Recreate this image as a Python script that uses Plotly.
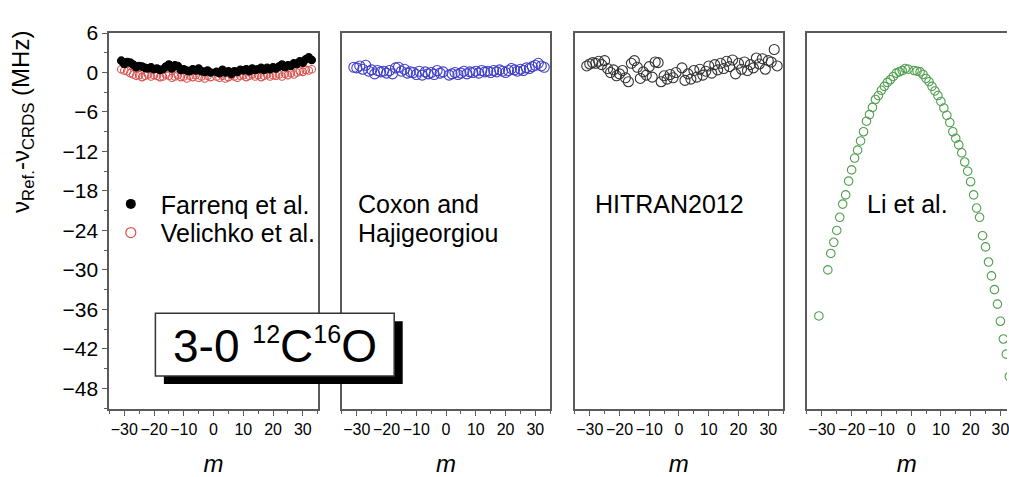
import plotly.graph_objects as go

# ---------------- data ----------------
m_main = [-31, -30, -29, -28, -27, -26, -25, -24, -23, -22, -21, -20, -19, -18, -17, -16,
          -15, -14, -13, -12, -11, -10, -9, -8, -7, -6, -5, -4, -3, -2, -1,
          1, 2, 3, 4, 5, 6, 7, 8, 9, 10, 11, 12, 13, 14, 15, 16, 17, 18, 19, 20,
          21, 22, 23, 24, 25, 26, 27, 28, 29, 30, 31, 32, 33]

farrenq = [1.8, 1.3, 1.6, 1.5, 1.2, 0.8, 1.0, 0.9, 0.7, 0.6, 0.8, 0.5, 0.6, 0.4, 0.5, 0.9,
           1.2, 0.6, 1.1, 1.0, 0.4, 0.5, 0.3, 0.2, 0.5, 0.3, 0.6, 0.2, 0.1, 0.3, 0.0,
           0.1, -0.1, 0.4, 0.0, 0.2, -0.2, 0.2, 0.1, 0.4, 0.3, 0.5, 0.2, 0.6, 0.4, 0.5, 0.7,
           0.4, 0.7, 0.5, 0.8, 0.6, 0.9, 1.2, 0.8, 1.1, 1.0, 1.4, 1.3, 1.7, 1.5, 2.0, 2.3, 1.9]

velichko = [0.5, 0.3, 0.2, -0.1, -0.3, -0.5, -0.4, -0.7, -0.5, -0.3, -0.6, -0.4, -0.5, -0.7,
            -0.6, -0.3, -0.5, -0.8, -0.6, -0.4, -0.7, -0.6, -0.9, -0.5, -0.7, -0.4, -0.8,
            -0.6, -0.9, -0.5, -0.7,
            -0.6, -0.8, -0.5, -0.9, -0.7, -0.4, -0.6, -0.8, -0.5, -0.4, -0.7, -0.5, -0.3,
            -0.6, -0.4, -0.7, -0.5, -0.3, -0.6, -0.4, -0.5, -0.3, -0.6, -0.2, -0.4, -0.1,
            -0.3, 0.0, 0.2, 0.1, 0.4, 0.3, 0.5]

coxon = [0.8, 0.7, 1.0, 0.5, 1.1, 0.2, 0.4, -0.2, 0.3, 0.1, 0.2, -0.1, 0.3, -0.2, 0.7, 0.8,
         0.2, 0.5, -0.1, 0.1, 0.0, -0.3, 0.2, -0.4, 0.1, -0.2, 0.0, -0.3, 0.3, -0.1, 0.1,
         -0.4, -0.2, 0.0, -0.3, -0.1, 0.2, -0.2, 0.1, 0.0, 0.2, -0.1, 0.3, 0.1, 0.2, 0.0,
         0.3, 0.1, 0.4, 0.2, 0.0, 0.3, 0.6, 0.4, 0.2, 0.5, 0.3, 0.7, 0.6, 0.9, 1.1, 1.4,
         1.0, 0.8]

hitran = [1.0, 1.3, 1.5, 1.4, 1.7, 1.2, 1.8, 0.6, 0.0, 0.4, -0.5, -0.2, 0.3, -0.8, -1.4,
          1.4, 1.8, 0.8, -0.9, 0.1, -0.4, 0.9, -0.7, 1.6, 1.5, -1.4, -0.5, -1.0, -0.3,
          -0.8, 0.0,
          0.7, -1.2, -0.2, -1.0, 0.3, -0.7, 0.5, -0.4, 0.2, 1.0, -0.1, 1.2, 0.4, 1.4, 0.6,
          1.7, 0.9, 1.9, -0.2, 1.4, 0.5, 1.6, 0.3, 1.2, 0.7, 2.2, 1.3, 2.1, 0.5, 1.8, 1.6,
          3.5, 1.0]

m_li = [-31, -28, -27, -26, -25, -24, -23, -22, -21, -20, -19, -18, -17, -16, -15, -14,
        -13, -12, -11, -10, -9, -8, -7, -6, -5, -4, -3, -2, -1,
        1, 2, 3, 4, 5, 6, 7, 8, 9, 10, 11, 12, 13, 14, 15, 16, 17, 18, 19, 20,
        21, 22, 23, 24, 25, 26, 27, 28, 29, 30, 31, 32, 33]

li = [-37.0, -30.0, -27.5, -25.8, -24.0, -22.0, -20.0, -18.6, -16.5, -14.8, -13.0, -11.8,
      -10.4, -9.0, -7.4, -6.4, -5.3, -4.1, -3.5, -2.7, -2.1, -1.5, -1.1, -0.6, -0.1,
      0.1, 0.3, 0.6, 0.5,
      0.3, 0.2, 0.1, -0.3, -0.9, -1.4, -2.1, -2.8, -3.5, -4.4, -5.4, -6.5, -7.6, -9.0,
      -10.0, -11.0, -12.2, -13.6, -15.0, -16.6, -18.6, -20.6, -22.0, -24.8, -26.5,
      -28.8, -30.9, -33.0, -35.2, -37.8, -40.5, -42.8, -46.2]

x_ticks = [-30, -20, -10, 0, 10, 20, 30]
x_tick_labels = ["\u221230", "\u221220", "\u221210", "0", "10", "20", "30"]
y_ticks = [6, 0, -6, -12, -18, -24, -30, -36, -42, -48]
y_tick_labels = ["6", "0", "\u22126", "\u221212", "\u221218", "\u221224", "\u221230",
                 "\u221236", "\u221242", "\u221248"]

# ---------------- layout helpers (pixels) ----------------
W, H = 1009, 477
FONT = "Arial, 'Liberation Sans', sans-serif"
FRAME = "#5a5a5a"

def px(x):
    return x / W

def py(y):
    return 1 - y / H

panel_left = [109.3, 342.3, 575.7, 808.3]
panel_w = 209.0
top_px, bot_px = 22.0, 415.7
x_lo = -35.1
x_hi = 35.0
units_per_px = (x_hi - x_lo) / panel_w

fig = go.Figure()

def add(xs, ys, idx, color, filled, size):
    fig.add_trace(go.Scatter(
        x=xs, y=ys, mode="markers", showlegend=False,
        xaxis="x" if idx == 1 else f"x{idx}", yaxis="y" if idx == 1 else f"y{idx}",
        marker=dict(symbol="circle" if filled else "circle-open", size=size,
                    color=color, line=dict(width=1.1, color=color)),
    ))

RED = "#d9534f"
BLUE = "#3f3fc8"
GREEN = "#4f9f4f"
DARK = "#333333"

add(m_main, velichko, 1, RED, False, 7.5)
add(m_main, farrenq, 1, "black", True, 7.5)
add(m_main, coxon, 2, BLUE, False, 10)
add(m_main, hitran, 3, DARK, False, 10)
add(m_li, li, 4, GREEN, False, 8.5)

# legend-only entries (each in its own legend box to control spacing)
fig.add_trace(go.Scatter(x=[None], y=[None], mode="markers", name="Farrenq et al.",
                         marker=dict(symbol="circle", size=10, color="black"),
                         xaxis="x", yaxis="y", legend="legend"))
fig.add_trace(go.Scatter(x=[None], y=[None], mode="markers", name="Velichko et al.",
                         marker=dict(symbol="circle-open", size=10, color=RED,
                                     line=dict(width=1.2, color=RED)),
                         xaxis="x", yaxis="y", legend="legend2"))

leg_common = dict(xanchor="left", yanchor="middle", bgcolor="rgba(0,0,0,0)",
                  font=dict(size=25, family=FONT, color="black"), itemwidth=50)

layout = dict(
    width=W, height=H, autosize=False,
    margin=dict(l=0, r=0, t=0, b=0, pad=0),
    paper_bgcolor="white", plot_bgcolor="white",
    font=dict(family=FONT, color="black"),
    showlegend=True,
    legend=dict(x=px(101), y=py(201), **leg_common),
    legend2=dict(x=px(101), y=py(231), **leg_common),
)

for i in range(4):
    left = panel_left[i]
    if i < 3:
        dom = [px(left), px(left + panel_w)]
        rng = [x_lo, x_hi]
    else:
        dom = [px(left), 1.0]
        rng = [x_lo, x_lo + (W - left) * units_per_px]
    xa = dict(
        domain=dom, range=rng, tickmode="array", tickvals=x_ticks,
        ticktext=x_tick_labels, tickangle=0, ticklabeloverflow="allow",
        ticks="outside", ticklen=5, tickwidth=1, tickcolor=FRAME,
        minor=dict(ticks="outside", ticklen=3, dtick=5, tick0=0, tickcolor=FRAME),
        showline=True, linecolor=FRAME, linewidth=1.5, mirror=True,
        showgrid=False, zeroline=False,
        tickfont=dict(size=16, family=FONT, color="black"),
        title=dict(text="m", font=dict(size=24, family=FONT, style="italic"), standoff=22),
        anchor="y" if i == 0 else f"y{i+1}",
    )
    ya = dict(
        domain=[py(bot_px), py(top_px)], range=[-51.2, 6],
        showline=True, linecolor=FRAME, linewidth=1.5, mirror=(i < 3),
        showgrid=False, zeroline=False,
        anchor="x" if i == 0 else f"x{i+1}",
    )
    if i == 0:
        ya.update(tickmode="array", tickvals=y_ticks, ticktext=y_tick_labels,
                  ticks="outside", ticklen=5, tickwidth=1, tickcolor=FRAME,
                  minor=dict(ticks="outside", ticklen=3, dtick=3, tick0=0, tickcolor=FRAME),
                  tickfont=dict(size=21, family=FONT, color="black"))
    else:
        ya.update(showticklabels=False, ticks="")
    key = "" if i == 0 else str(i + 1)
    layout["xaxis" + key] = xa
    layout["yaxis" + key] = ya

fig.update_layout(**layout)

# y-axis title
fig.add_annotation(
    x=px(23), y=py(115), xref="paper", yref="paper", showarrow=False,
    textangle=-90, xanchor="center", yanchor="middle",
    text="ν<sub>Ref.</sub>-ν<sub>CRDS</sub> (MHz)", font=dict(size=24, family=FONT),
)

# panel labels
def label(text, x, y, anchor="left"):
    fig.add_annotation(x=px(x), y=py(y), xref="paper", yref="paper", showarrow=False,
                       xanchor=anchor, yanchor="middle", text=text,
                       font=dict(size=25, family=FONT, color="black"))

label("Coxon and", 357, 201)
label("Hajigeorgiou", 357, 231)
label("HITRAN2012", 671, 201, "center")
label("Li et al.", 909, 201, "center")

# box with shadow
bx0, bx1, by0, by1 = 155.7, 395.0, 315.0, 380.7
sh = 8.5
fig.add_shape(type="rect", xref="paper", yref="paper", layer="above",
              x0=px(bx0 + sh), x1=px(bx1 + sh), y0=py(by1 + sh), y1=py(by0 + sh),
              fillcolor="black", line=dict(width=0))
fig.add_shape(type="rect", xref="paper", yref="paper", layer="above",
              x0=px(bx0), x1=px(bx1), y0=py(by1), y1=py(by0),
              fillcolor="white", line=dict(width=1.5, color="#333333"))
fig.add_annotation(
    x=px((bx0 + bx1) / 2), y=py(349), xref="paper", yref="paper", showarrow=False,
    xanchor="center", yanchor="middle",
    text="3-0 <sup><span style='font-size:25px'>12</span></sup>C<sup><span style='font-size:25px'>16</span></sup>O",
    font=dict(size=46, family=FONT, color="black"),
)

fig.write_html(
    "out.html",
    config={"displayModeBar": False},
    post_script="document.body.style.margin='0px';document.body.style.overflow='hidden';",
)
